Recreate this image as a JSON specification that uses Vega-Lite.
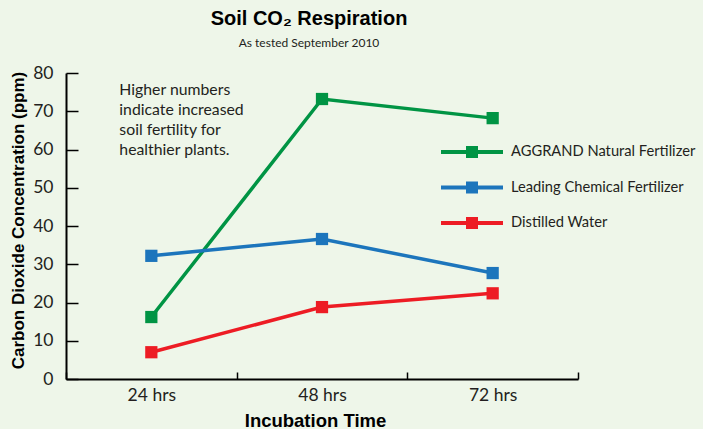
{
  "$schema": "https://vega.github.io/schema/vega-lite/v6.json",
  "width": 512,
  "height": 306,
  "autosize": "none",
  "padding": {"left": 66, "top": 73, "right": 125, "bottom": 50},
  "background": "#eef6e9",
  "config": {
    "view": {"stroke": null},
    "font": "Lato"
  },
  "title": {
    "text": "Soil CO₂ Respiration",
    "subtitle": "As tested September 2010",
    "font": "Liberation Sans",
    "fontSize": 20,
    "fontWeight": "bold",
    "color": "#000000",
    "subtitleFont": "Lato",
    "subtitleFontSize": 12,
    "subtitleColor": "#231f20",
    "subtitlePadding": 9,
    "anchor": "middle",
    "dx": -13,
    "offset": 15
  },
  "encoding": {
    "x": {
      "field": "time",
      "type": "nominal",
      "scale": {"type": "band", "paddingInner": 0, "paddingOuter": 0},
      "axis": {
        "title": "Incubation Time",
        "titleFont": "Liberation Sans",
        "titleFontSize": 18.5,
        "titleFontWeight": "bold",
        "titleColor": "#000000",
        "titleX": 249,
        "titleY": 41,
        "titleBaseline": "middle",
        "labelAngle": 0,
        "labelFont": "Lato",
        "labelFontSize": 17.5,
        "labelColor": "#231f20",
        "labelPadding": 14,
        "tickBand": "extent",
        "tickSize": -7,
        "tickColor": "#000000",
        "tickWidth": 1.5,
        "domainColor": "#000000",
        "domainWidth": 2
      }
    },
    "y": {
      "field": "ppm",
      "type": "quantitative",
      "scale": {"domain": [0, 80], "nice": false},
      "axis": {
        "title": "Carbon Dioxide Concentration (ppm)",
        "titleFont": "Liberation Sans",
        "titleFontSize": 17,
        "titleFontWeight": "bold",
        "titleColor": "#000000",
        "titleX": -48,
        "titleY": 147,
        "titleAngle": -90,
        "titleAlign": "center",
        "titleBaseline": "middle",
        "values": [0, 10, 20, 30, 40, 50, 60, 70, 80],
        "labelFont": "Lato",
        "labelFontSize": 17.5,
        "labelColor": "#231f20",
        "labelPadding": 25,
        "tickSize": -12,
        "tickColor": "#000000",
        "tickWidth": 1.5,
        "domainColor": "#000000",
        "domainWidth": 2,
        "grid": false
      }
    }
  },
  "layer": [
    {
      "data": {
        "values": [
          {"time": "24 hrs", "series": "AGGRAND Natural Fertilizer", "ppm": 16.2},
          {"time": "48 hrs", "series": "AGGRAND Natural Fertilizer", "ppm": 73.2},
          {"time": "72 hrs", "series": "AGGRAND Natural Fertilizer", "ppm": 68.2},
          {"time": "24 hrs", "series": "Leading Chemical Fertilizer", "ppm": 32.2},
          {"time": "48 hrs", "series": "Leading Chemical Fertilizer", "ppm": 36.6},
          {"time": "72 hrs", "series": "Leading Chemical Fertilizer", "ppm": 27.7},
          {"time": "24 hrs", "series": "Distilled Water", "ppm": 7.0},
          {"time": "48 hrs", "series": "Distilled Water", "ppm": 18.8},
          {"time": "72 hrs", "series": "Distilled Water", "ppm": 22.4}
        ]
      },
      "encoding": {
        "color": {
          "field": "series",
          "type": "nominal",
          "sort": ["AGGRAND Natural Fertilizer", "Leading Chemical Fertilizer", "Distilled Water"],
          "scale": {
            "domain": ["AGGRAND Natural Fertilizer", "Leading Chemical Fertilizer", "Distilled Water"],
            "range": ["#009444", "#1c75bc", "#ed1c24"]
          },
          "legend": {
            "title": null,
            "orient": "none",
            "legendX": 375,
            "legendY": 69,
            "padding": 0,
            "symbolType": "M-3.1,-0.2H3.1V0.2H-3.1Z M-0.6,-0.6H0.6V0.6H-0.6Z",
            "symbolSize": 400,
            "symbolStrokeWidth": 0,
            "symbolOffset": 21,
            "labelOffset": 29,
            "labelFont": "Lato",
            "labelFontSize": 14.7,
            "labelColor": "#231f20",
            "labelLimit": 300,
            "rowPadding": 18.5
          }
        }
      },
      "layer": [
        {"mark": {"type": "line", "strokeWidth": 3.5}},
        {"mark": {"type": "point", "shape": "square", "filled": true, "size": 150, "opacity": 1}}
      ]
    },
    {
      "data": {"values": [{"time": "24 hrs", "ppm": 80, "note": "Higher numbers\nindicate increased\nsoil fertility for\nhealthier plants."}]},
      "mark": {
        "type": "text",
        "align": "left",
        "baseline": "top",
        "font": "Lato",
        "fontSize": 15.8,
        "lineHeight": 20,
        "lineBreak": "\n",
        "color": "#231f20",
        "dx": -32,
        "dy": 10
      },
      "encoding": {
        "text": {"field": "note", "type": "nominal"}
      }
    }
  ]
}
